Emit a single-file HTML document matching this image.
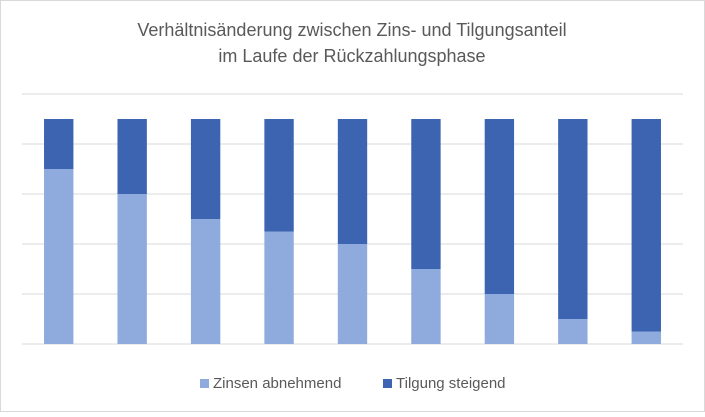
<!DOCTYPE html>
<html><head><meta charset="utf-8"><style>
body{margin:0;background:#fff;font-family:"Liberation Sans",sans-serif}
</style></head><body>
<svg id="c" width="705" height="412" xmlns="http://www.w3.org/2000/svg">
<rect x="0.5" y="0.5" width="704" height="411" fill="#fff" stroke="#d9d9d9"/>
<text x="352" y="36" text-anchor="middle" font-size="18" fill="#595959">Verhältnisänderung zwischen Zins- und Tilgungsanteil</text>
<text x="352" y="62" text-anchor="middle" font-size="18" fill="#595959">im Laufe der Rückzahlungsphase</text>
<g id="grid"></g><g id="bars"></g>
<rect x="200" y="379" width="9" height="9" fill="#8faadc"/>
<text x="213" y="388" font-size="15" fill="#595959">Zinsen abnehmend</text>
<rect x="383" y="379" width="9" height="9" fill="#3c64b1"/>
<text x="396" y="388" font-size="15" fill="#595959">Tilgung steigend</text>
</svg>
<script>
const categories=[1,2,3,4,5,6,7,8,9];
const zinsen=[3.5,3,2.5,2.25,2,1.5,1,0.5,0.25];
const tilgung=[1,1.5,2,2.25,2.5,3,3.5,4,4.25];
const gridTicks=[0,1,2,3,4,5];
const NS="http://www.w3.org/2000/svg";
const x0=22,x1=683,yBase=344,unit=50;
const y=v=>yBase-v*unit;
const band=(x1-x0)/categories.length, bw=band*0.4;
const g=document.getElementById('grid'),b=document.getElementById('bars');
gridTicks.forEach(t=>{const l=document.createElementNS(NS,'line');
l.setAttribute('x1',x0);l.setAttribute('x2',x1);l.setAttribute('y1',y(t));l.setAttribute('y2',y(t));
l.setAttribute('stroke','#d9d9d9');


g.appendChild(l);});
categories.forEach((c,i)=>{const cx=x0+band*(i+0.5);
const r1=document.createElementNS(NS,'rect');
r1.setAttribute('x',cx-bw/2);r1.setAttribute('width',bw);r1.setAttribute('y',y(zinsen[i]));r1.setAttribute('height',zinsen[i]*unit);r1.setAttribute('fill','#8faadc');


b.appendChild(r1);
const r2=document.createElementNS(NS,'rect');
r2.setAttribute('x',cx-bw/2);r2.setAttribute('width',bw);r2.setAttribute('y',y(zinsen[i]+tilgung[i]));r2.setAttribute('height',tilgung[i]*unit);r2.setAttribute('fill','#3c64b1');


b.appendChild(r2);});
</script>
</body></html>
